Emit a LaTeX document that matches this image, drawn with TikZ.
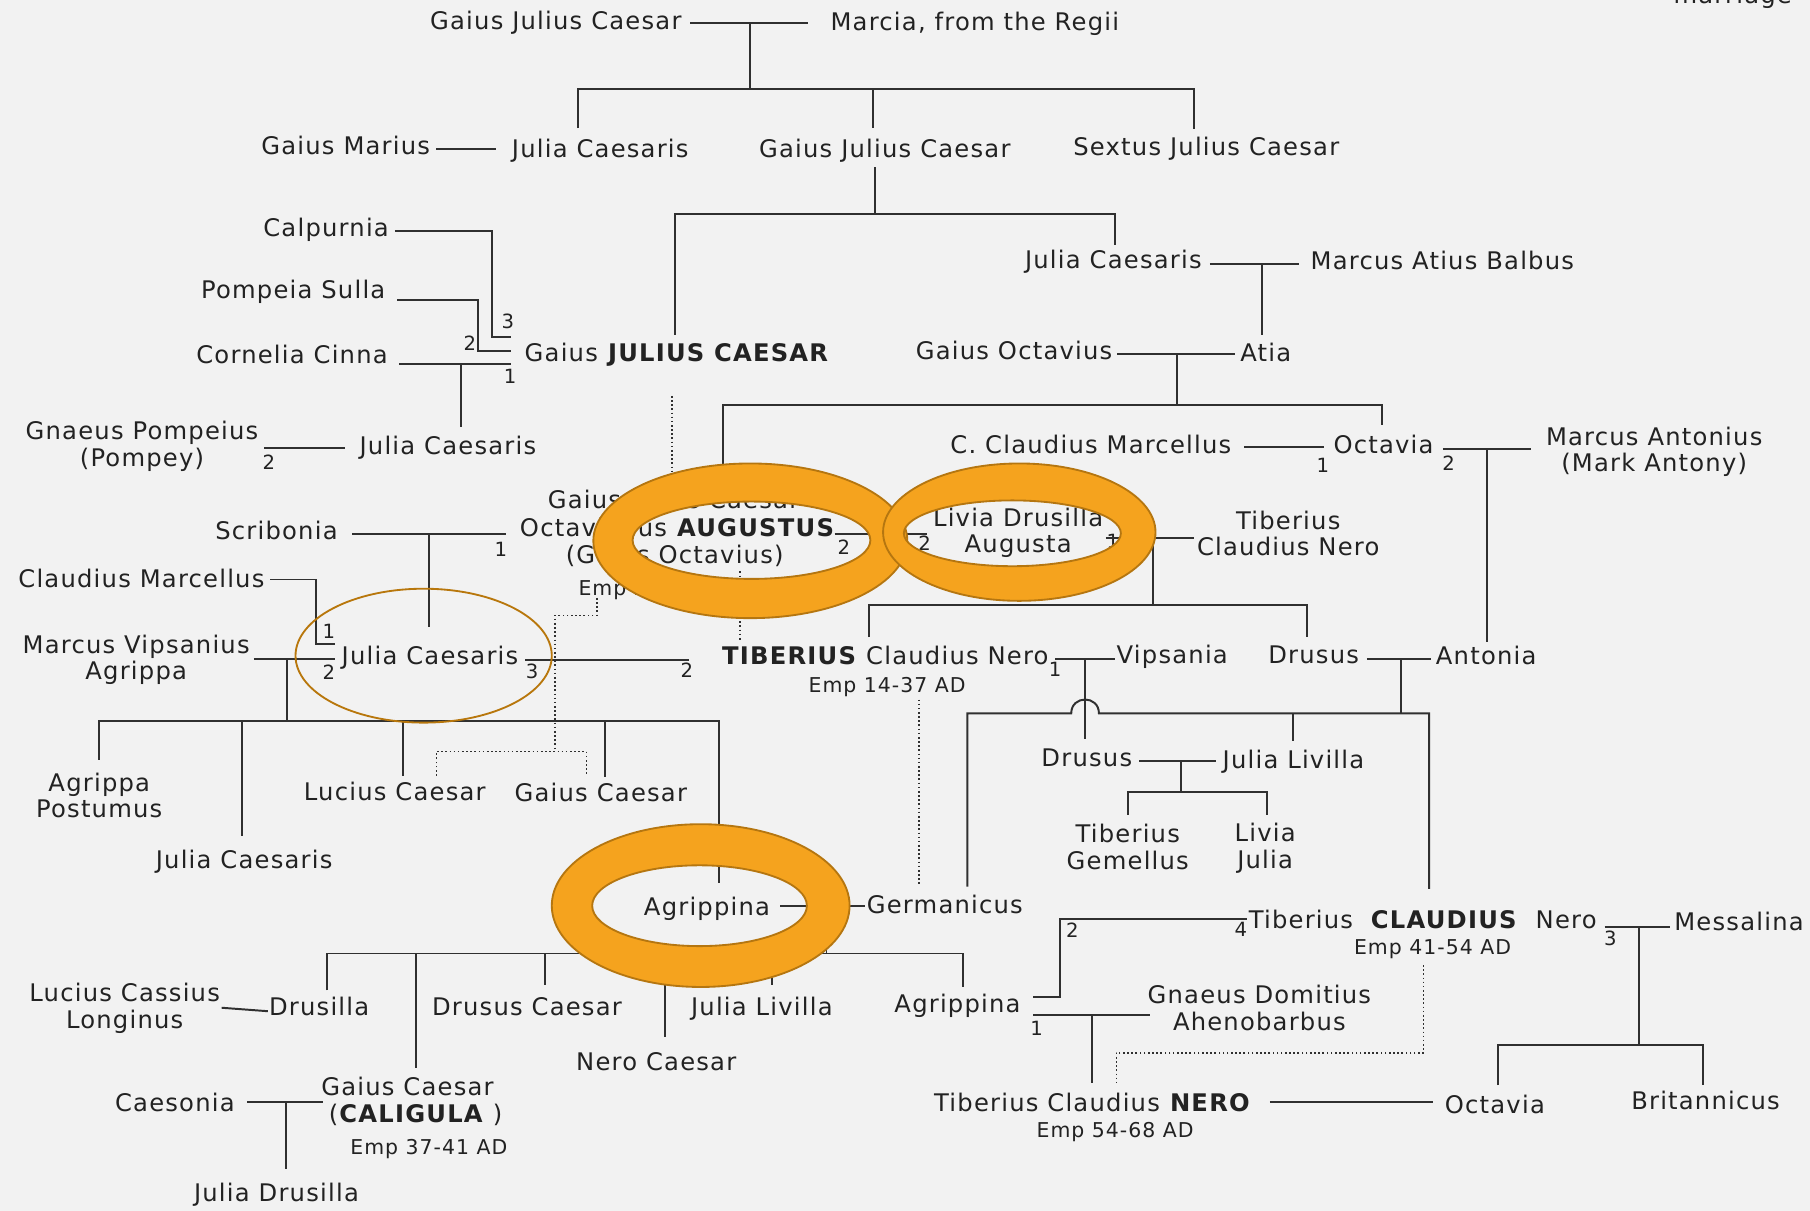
\documentclass[tikz,border=0pt]{standalone}
\usepackage{fontspec}
\setmainfont{DejaVu Sans}[LetterSpace=5]
\definecolor{bg}{HTML}{F2F2F2}
\definecolor{ink}{HTML}{222222}
\definecolor{lnc}{HTML}{303030}
\definecolor{ringfill}{HTML}{F5A31E}
\definecolor{ringdraw}{HTML}{B57610}
\definecolor{brownc}{HTML}{B8770C}
\newcommand{\fnA}{\fontsize{21}{23}\selectfont}
\newcommand{\fnN}{\fontsize{17}{19}\selectfont}
\newcommand{\fnE}{\fontsize{17.7}{20}\selectfont}
\begin{document}
\begin{tikzpicture}[x=1pt,y=-1pt,
  txt/.style={inner sep=0pt,anchor=mid,font=\fnA,text=ink,yshift=-5pt},
  two/.style={inner sep=0pt,anchor=center,align=center,font=\fnA,text=ink,yshift=-2.5pt},
  num/.style={inner sep=0pt,anchor=center,font=\fnN,text=ink},
  emp/.style={inner sep=0pt,anchor=mid,font=\fnE,text=ink,yshift=-4pt},
  ln/.style={draw=lnc,line width=1.7pt},
  dot/.style={draw=lnc,line width=1.3pt,dash pattern=on 1.4pt off 2.2pt},
  ring/.style={fill=ringfill,draw=ringdraw,line width=1.6pt,even odd rule}]
\fill[bg] (0,0) rectangle (1568,1049);
\useasboundingbox (0,0) rectangle (1568,1049);

% ---------- text nodes ----------
\node[txt] (gjc0) at (481.5,18) {Gaius Julius Caesar};
\node[txt] (marcia) at (844.5,19) {Marcia, from the Regii};
\node[inner sep=0pt,anchor=base,font=\fnA,text=ink] (marriage) at (1501,3) {marriage};
\node[txt] (marius) at (299.5,126) {Gaius Marius};
\node[txt] (julia1) at (520,129) {Julia Caesaris};
\node[txt] (gjc1) at (766.5,129) {Gaius Julius Caesar};
\node[txt] (sextus) at (1045,127) {Sextus Julius Caesar};
\node[txt] (calp) at (282.5,197) {Calpurnia};
\node[txt] (pomp) at (254,251) {Pompeia Sulla};
\node[txt] (corn) at (253,307) {Cornelia Cinna};
\node[txt] (caesar) at (586.5,305) {Gaius \textbf{JULIUS CAESAR}};
\node[txt] (julia2) at (964.5,225) {Julia Caesaris};
\node[txt] (balbus) at (1249.5,226) {Marcus Atius Balbus};
\node[txt] (goct) at (878.5,304) {Gaius Octavius};
\node[txt] (atia) at (1096.5,305) {Atia};
\node[two] (pompey) at (123,384) {Gnaeus Pompeius\\(Pompey)};
\node[txt] (julia3) at (388,386) {Julia Caesaris};
\node[txt] (marcellus) at (945,385) {C. Claudius Marcellus};
\node[txt] (octavia) at (1198.5,385) {Octavia};
\node[two] (antony) at (1433,389) {Marcus Antonius\\(Mark Antony)};
\node[txt] (aug1) at (583.5,433) {Gaius Julius Caesar};
\node[txt] (aug2) at (587,457) {Octavianus \textbf{AUGUSTUS}};
\node[txt] (aug3) at (584.5,480) {(Gaius Octavius)};
\node[emp] (aug4) at (585,509) {Emp 27 BC-14 AD};
\node[two] (livia) at (882,459) {Livia Drusilla\\Augusta};
\node[two] (tcn) at (1116,459.5) {Tiberius\\Claudius Nero};
\node[txt] (scrib) at (239.5,460) {Scribonia};
\node[txt] (cmarc) at (122.5,501) {Claudius Marcellus};
\node[two] (agrippa) at (118,569) {Marcus Vipsanius\\Agrippa};
\node[txt] (julia4) at (372.5,568) {Julia Caesaris};
\node[txt] (tiberius) at (767,568) {\textbf{TIBERIUS} Claudius Nero};
\node[emp] (tibemp) at (768.5,593) {Emp 14-37 AD};
\node[txt] (vips) at (1015.5,567) {Vipsania};
\node[txt] (drusus1) at (1138,567) {Drusus};
\node[txt] (antonia) at (1287.5,568) {Antonia};
\node[txt] (drusus2) at (941.5,656) {Drusus};
\node[txt] (livilla1) at (1120.5,658) {Julia Livilla};
\node[two] (gemellus) at (977,731) {Tiberius\\Gemellus};
\node[two] (liviaj) at (1096,732.5) {Livia\\Julia};
\node[two] (postumus) at (86,686.5) {Agrippa\\Postumus};
\node[txt] (julia5) at (211.5,745) {Julia Caesaris};
\node[txt] (lucius) at (342,686) {Lucius Caesar};
\node[txt] (gaiusc) at (520.5,687) {Gaius Caesar};
\node[txt] (agrippina1) at (612.5,785) {Agrippina};
\node[txt] (german) at (818.5,784) {Germanicus};
\node[two] (cassius) at (108,871) {Lucius Cassius\\Longinus};
\node[txt] (drusilla) at (276.5,872) {Drusilla};
\node[txt] (drususc) at (456.5,872) {Drusus Caesar};
\node[txt] (neroc) at (568.5,920) {Nero Caesar};
\node[txt] (livilla2) at (660,872) {Julia Livilla};
\node[txt] (agrippina2) at (829.5,869) {Agrippina};
\node[two] (gnaeus) at (1091,870.5) {Gnaeus Domitius\\Ahenobarbus};
\node[txt] (calig1) at (353,941) {Gaius Caesar};
\node[txt] (calig2) at (360,965) {(\textbf{CALIGULA} )};
\node[emp] (caligemp) at (371.5,993) {Emp 37-41 AD};
\node[txt] (caesonia) at (151.5,955) {Caesonia};
\node[txt] (jdrus) at (239.5,1033) {Julia Drusilla};
\node[txt] (nero) at (946.5,955) {Tiberius Claudius \textbf{NERO}};
\node[emp] (neroemp) at (966,979) {Emp 54-68 AD};
\node[txt] (claudius) at (1232.5,797) {Tiberius \ \textbf{CLAUDIUS} \ Nero};
\node[emp] (claudemp) at (1241,820) {Emp 41-54 AD};
\node[txt] (messalina) at (1506.5,798) {Messalina};
\node[txt] (octavia2) at (1295,957) {Octavia};
\node[txt] (brit) at (1477.5,953) {Britannicus};

% ---------- marriage order numbers ----------
\node[num] (n1) at (440,278) {3};
\node[num] (n2) at (407,297) {2};
\node[num] (n3) at (442,326) {1};
\node[num] (n4) at (233,400) {2};
\node[num] (n5) at (1146,403) {1};
\node[num] (n6) at (1255,401) {2};
\node[num] (n7) at (434,476) {1};
\node[num] (n8) at (731,474) {2};
\node[num] (n9) at (801,471) {2};
\node[num] (n10) at (964,469) {1};
\node[num] (n11) at (285,547) {1};
\node[num] (n12) at (285,582) {2};
\node[num] (n13) at (461,582) {3};
\node[num] (n14) at (595,581) {2};
\node[num] (n15) at (914,580) {1};
\node[num] (n16) at (929,806) {2};
\node[num] (n17) at (1075,805) {4};
\node[num] (n18) at (898,891) {1};
\node[num] (n19) at (1395,813) {3};

% ---------- solid connectors ----------
\draw[ln] (598,20) -- (700,20);
\draw[ln] (650,20) -- (650,77);
\draw[ln] (501,111) -- (501,77) -- (1034,77) -- (1034,112);
\draw[ln] (756,77) -- (756,111);
\draw[ln] (378,129) -- (430,129);
\draw[ln] (758,145) -- (758,185);
\draw[ln] (585,290) -- (585,185) -- (966,185) -- (966,212);
\draw[ln] (342,200) -- (426,200) -- (426,292) -- (443,292);
\draw[ln] (344,260) -- (414,260) -- (414,304) -- (443,304);
\draw[ln] (346,315) -- (443,315);
\draw[ln] (399,315) -- (399,370);
\draw[ln] (1048,229) -- (1125,229);
\draw[ln] (1093,229) -- (1093,290);
\draw[ln] (968,307) -- (1070,307);
\draw[ln] (1020,307) -- (1020,351);
\draw[ln] (626,412) -- (626,351) -- (1197,351) -- (1197,368);
\draw[ln] (229,388) -- (299,388);
\draw[ln] (1078,387) -- (1147,387);
\draw[ln] (1250,389) -- (1326,389);
\draw[ln] (1288,389) -- (1288,556);
\draw[ln] (305,463) -- (438,463);
\draw[ln] (372,463) -- (372,543);
\draw[ln] (234,502) -- (274,502) -- (274,558) -- (290,558);
\draw[ln] (220,571) -- (290,571);
\draw[ln] (249,571) -- (249,625);
\draw[ln] (455,572) -- (597,572);
\draw[ln] (723,463) -- (803,463);
\draw[ln] (958,466) -- (1034,466);
\draw[ln] (999,466) -- (999,524);
\draw[ln] (753,552) -- (753,524) -- (1132,524) -- (1132,552);
\draw[ln] (914,571) -- (966,571);
\draw[ln] (940,571) -- (940,640);
\draw[ln] (1184,571) -- (1240,571);
\draw[ln] (1214,571) -- (1214,618);
\draw[ln] (838,768) -- (838,618) -- (928,618) .. controls (928,602) and (952,602) .. (952,618) -- (1238,618) -- (1238,770);
\draw[ln] (1120,618) -- (1120,642);
\draw[ln] (987,659) -- (1053,659);
\draw[ln] (1023,659) -- (1023,686);
\draw[ln] (977,706) -- (977,686) -- (1098,686) -- (1098,706);
\draw[ln] (86,658) -- (86,625) -- (623,625) -- (623,765);
\draw[ln] (210,625) -- (210,724);
\draw[ln] (349,625) -- (349,672);
\draw[ln] (524,625) -- (524,673);
\draw[ln] (676,785) -- (749,785);
\draw[ln] (716,785) -- (716,826);
\draw[ln] (283,858) -- (283,826) -- (834,826) -- (834,855);
\draw[ln] (360,826) -- (360,925);
\draw[ln] (472,826) -- (472,853);
\draw[ln] (576,826) -- (576,898);
\draw[ln] (669,826) -- (669,853);
\draw[ln] (192,873) -- (232,876);
\draw[ln] (895,864) -- (918,864) -- (918,796) -- (1080,796);
\draw[ln] (895,879) -- (996,879);
\draw[ln] (946,879) -- (946,938);
\draw[ln] (214,955) -- (280,955);
\draw[ln] (248,955) -- (248,1013);
\draw[ln] (1100,955) -- (1241,955);
\draw[ln] (1390,803) -- (1447,803);
\draw[ln] (1420,803) -- (1420,905);
\draw[ln] (1298,940) -- (1298,905) -- (1475,905) -- (1475,940);

% ---------- dotted (adoption) connectors ----------
\draw[dot] (582,343) -- (582,410);
\draw[dot] (517,518) -- (517,533) -- (481,533) -- (481,651);
\draw[dot] (378,672) -- (378,651) -- (508,651) -- (508,672);
\draw[dot] (641,495) -- (641,556);
\draw[dot] (796,606) -- (796,766);
\draw[dot] (1233,836) -- (1233,912) -- (967,912) -- (967,940);

% ---------- highlight ellipse and rings ----------
\draw[brownc,line width=1.6pt] (367,568) ellipse [x radius=111, y radius=58];
\path[ring] (650,468.5) ellipse [x radius=136, y radius=67]
            (651,468) ellipse [x radius=103, y radius=33.5];
\path[ring] (883,461) ellipse [x radius=118, y radius=59.5]
            (877,462) ellipse [x radius=94, y radius=28.5];
\path[ring] (607,784.5) ellipse [x radius=129, y radius=70.5]
            (606,784.6) ellipse [x radius=93, y radius=35];
\end{tikzpicture}
\end{document}
